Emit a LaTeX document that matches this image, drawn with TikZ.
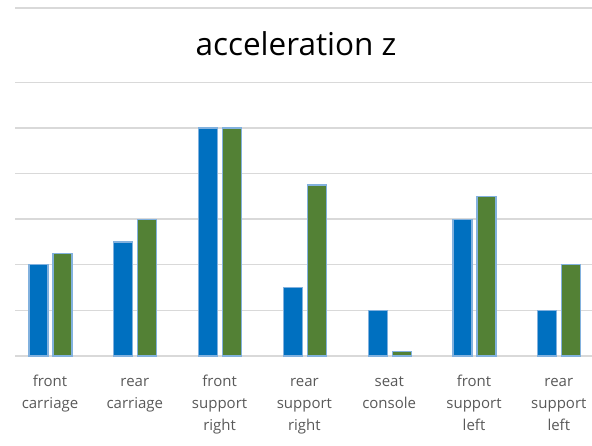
\documentclass[tikz,border=0pt]{standalone}
\usepackage{fontspec}
\setmainfont{Open Sans}
\usepackage{xcolor}
\definecolor{barblue}{HTML}{0070C0}
\definecolor{bargreen}{HTML}{538135}
\definecolor{baredge}{HTML}{82B1DE}
\definecolor{gridgray}{HTML}{D9D9D9}
\definecolor{labgray}{HTML}{595959}

\begin{document}
\begin{tikzpicture}[x=1pt,y=1pt,
    gridline/.style={gridgray, line width=1.4pt},
    bar/.style={draw=baredge, line width=1.3pt},
    cat/.style={text=labgray, font=\fontsize{15}{22}\selectfont, align=center, anchor=north, inner sep=0pt}]
      \useasboundingbox (0,0) rectangle (592,446);
      % grid
      \draw[gridline] (15,438) -- (592,438);
      \foreach \k in {0,...,6}
        \draw[gridline] (15,90+45.6*\k) -- (592,90+45.6*\k);

      \node[font=\fontsize{31.5}{36}\selectfont, anchor=base, inner sep=0pt] (title) at (296,390) {acceleration z};

      % bars and category labels
      \foreach \i/\b/\g/\txt in {0/2/2.25/{front\\carriage}, 1/2.5/3/{rear\\carriage},
            2/5/5/{front\\support\\right}, 3/1.5/3.75/{rear\\support\\right},
            4/1/0.1/{seat\\console}, 5/3/3.5/{front\\support\\left}, 6/1/2/{rear\\support\\left}} {
        \pgfmathsetmacro{\c}{50+84.8*\i}
        \draw[bar, fill=barblue] (\c-21,90) rectangle (\c-2,90+45.6*\b);
        \draw[bar, fill=bargreen] (\c+3,90) rectangle (\c+22,90+45.6*\g);
        \node[cat] (lab\i) at (\c,75.4) {\strut\txt};
      }
    \end{tikzpicture}
\end{document}
